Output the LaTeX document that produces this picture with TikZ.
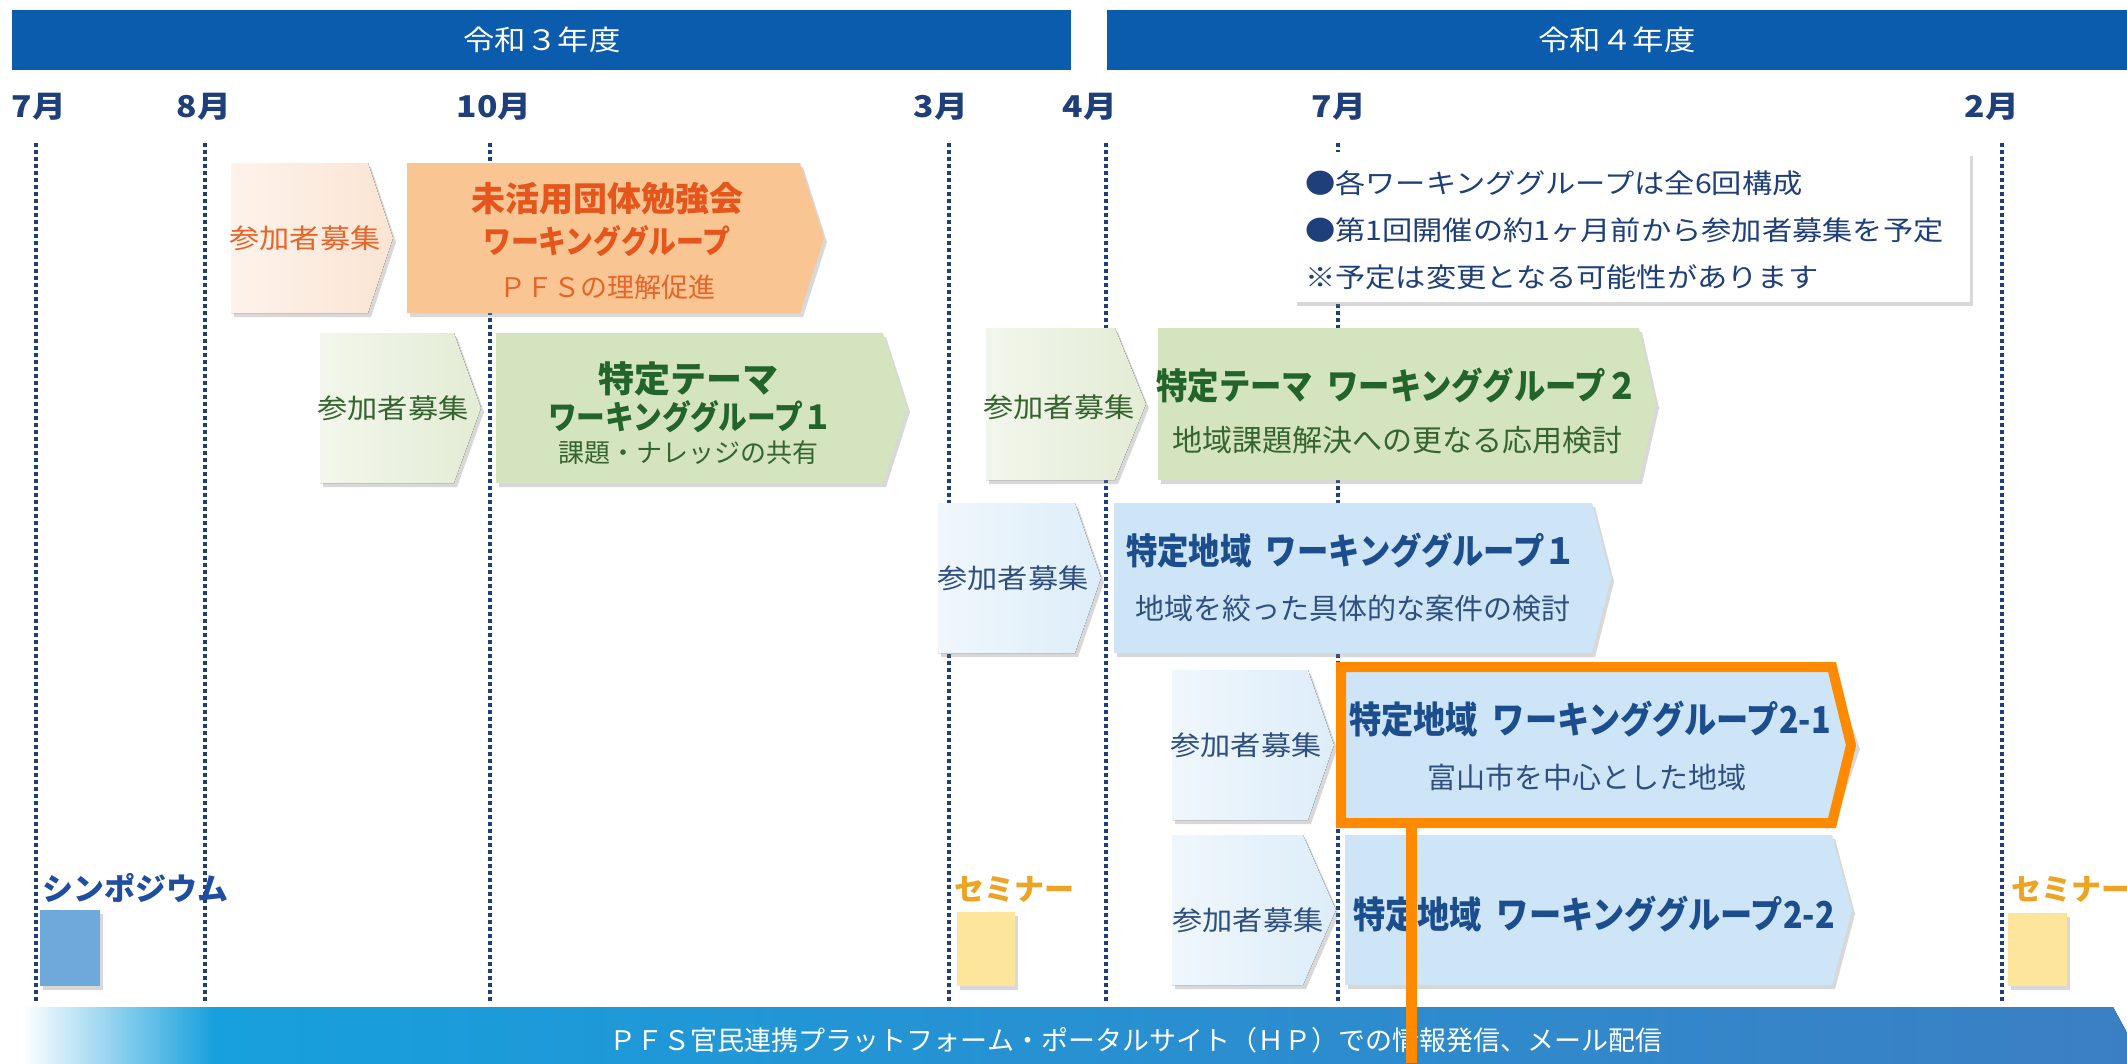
\documentclass[tikz,border=0pt]{standalone}
\usepackage{fontspec}
\newfontfamily\jp{Noto Sans CJK JP}
\newfontfamily\jpw[FakeStretch=1.12]{Noto Sans CJK JP}
\newfontfamily\jpc[FakeStretch=0.87]{Noto Sans CJK JP}
\usetikzlibrary{shadows}
\definecolor{hdr}{HTML}{0B5CAD}
\definecolor{navy}{HTML}{1F3F7A}
\definecolor{bluetx}{HTML}{1C4E8E}
\definecolor{bluesub}{HTML}{2F4F7F}
\definecolor{orgtx}{HTML}{E5561D}
\definecolor{orgsub}{HTML}{E8652A}
\definecolor{orgrec}{HTML}{FBE4D3}
\definecolor{orgmain}{HTML}{F9C693}
\definecolor{grnrec}{HTML}{E3ECD5}
\definecolor{grnmain}{HTML}{D4E4BE}
\definecolor{grntx}{HTML}{22642A}
\definecolor{grnsub}{HTML}{35642F}
\definecolor{blurec}{HTML}{DDEDF9}
\definecolor{blumain}{HTML}{CDE5F7}
\definecolor{hlframe}{HTML}{FF8A00}
\definecolor{sympo}{HTML}{6FA9DC}
\definecolor{sympotx}{HTML}{1F4EA0}
\definecolor{semi}{HTML}{FDE69C}
\definecolor{semitx}{HTML}{EDA422}
\definecolor{bannerA}{HTML}{17A0DD}
\definecolor{bannerB}{HTML}{3C7EC3}

\newcommand\mychev[6]{\fill[#6] (#1,#4) -- (#2,#4) -- (#3,{(#4+#5)/2}) -- (#2,#5) -- (#1,#5) -- cycle;}

\tikzset{
  shd/.style={drop shadow={shadow xshift=3pt,shadow yshift=-4pt,opacity=0.3}},
  recfill/.style={left color=white!55!#1, right color=#1},
  hdrtx/.style={inner sep=0, text=white, font=\jpw\fontsize{28}{32}\selectfont},
  tmonth/.style={inner sep=0, text=navy, font=\jpw\bfseries\fontsize{30}{34}\selectfont},
  vline/.style={navy, line width=4pt, dash pattern=on 4pt off 3pt},
  trec/.style={inner sep=0, font=\jpw\fontsize{27}{30}\selectfont},
  tttl/.style={inner sep=0, font=\jpc\bfseries\fontsize{36}{40}\selectfont},
  tsub/.style={inner sep=0, font=\jp\fontsize{29}{34}\selectfont},
  tnote/.style={inner sep=0, anchor=west, text=navy, font=\jpw\fontsize{27}{30}\selectfont},
}

\begin{document}
\begin{tikzpicture}[x=1pt,y=-1pt]
\useasboundingbox (0,0) rectangle (2127,1063);
\clip (0,0) rectangle (2127,1063);
\fill[white] (0,0) rectangle (2127,1063);

% headers
\fill[hdr] (12,10) rectangle (1071,70);
\fill[hdr] (1107,10) rectangle (2127,70);
\node[hdrtx] (h1) at (542,40) {令和３年度};
\node[hdrtx] (h2) at (1617,40) {令和４年度};

% month labels
\node[tmonth] (m1) at (39,107) {7月};
\node[tmonth] (m2) at (204,107) {8月};
\node[tmonth] (m3) at (494,107) {10月};
\node[tmonth] (m4) at (941,107) {3月};
\node[tmonth] (m5) at (1090,107) {4月};
\node[tmonth] (m6) at (1339,107) {7月};
\node[tmonth] (m7) at (1992,107) {2月};

% dotted lines
\foreach \x in {36,205,490,949,1106,1338,2002}
  \draw[vline] (\x,143) -- (\x,1002);

% note box
\fill[white, shd] (1294,152) rectangle (1970,302);
\node[tnote] (n1) at (1305,183) {●各ワーキンググループは全6回構成};
\node[tnote] (n2) at (1305,230) {●第1回開催の約1ヶ月前から参加者募集を予定};
\node[tnote] (n3) at (1305,277) {※予定は変更となる可能性があります};

% orange row
\mychev{231}{368}{393}{163}{313}{recfill=orgrec, shd}
\mychev{407}{800}{824}{163}{313}{orgmain, shd}
\node[trec, text=orgsub] (r1) at (305,238) {参加者募集};
\node[inner sep=0, text=orgtx, font=\jp\bfseries\fontsize{34}{38}\selectfont] (o1) at (607,199) {未活用団体勉強会};
\node[inner sep=0, text=orgtx, font=\jpc\bfseries\fontsize{32}{36}\selectfont] (o2) at (607,241) {ワーキンググループ};
\node[inner sep=0, text=orgsub, font=\jp\fontsize{27}{30}\selectfont] (o3) at (607,287) {ＰＦＳの理解促進};

% green row 1
\mychev{320}{454}{481}{333}{483}{recfill=grnrec, shd}
\mychev{496}{883}{907}{333}{483}{grnmain, shd}
\node[trec, text=grnsub] (r2) at (393,408) {参加者募集};
\node[inner sep=0, text=grntx, font=\jp\bfseries\fontsize{36}{40}\selectfont] (g1) at (688,379) {特定テーマ};
\node[inner sep=0, text=grntx, font=\jpc\bfseries\fontsize{33}{36}\selectfont] (g2) at (690,417) {ワーキンググループ１};
\node[inner sep=0, text=grnsub, font=\jp\fontsize{26}{30}\selectfont] (g3) at (688,453) {課題・ナレッジの共有};

% green row 2
\mychev{986}{1115}{1146}{328}{480}{recfill=grnrec, shd}
\mychev{1158}{1639}{1656}{328}{480}{grnmain, shd}
\node[trec, text=grnsub] (r3) at (1059,407) {参加者募集};
\node[tttl, text=grntx] (g4) at (1397,386) {特定テーマ\hspace{0.4em}ワーキンググループ２};
\node[tsub, text=grnsub, font=\jp\fontsize{30}{34}\selectfont] (g5) at (1397,440) {地域課題解決への更なる応用検討};

% blue row 1
\mychev{938}{1075}{1101}{503}{653}{recfill=blurec, shd}
\mychev{1114}{1592}{1611}{503}{653}{blumain, shd}
\node[trec, text=bluesub] (r4) at (1013,578) {参加者募集};
\node[tttl, text=bluetx] (b1) at (1351,551) {特定地域\hspace{0.4em}ワーキンググループ１};
\node[tsub, text=bluesub] (b2) at (1353,608) {地域を絞った具体的な案件の検討};

% blue row 2-1
\mychev{1172}{1308}{1334}{670}{820}{recfill=blurec, shd}
\mychev{1345}{1831}{1857}{670}{820}{blumain, shd}
\node[trec, text=bluesub] (r5) at (1246,745) {参加者募集};
\node[tttl, text=bluetx, font=\jpc\bfseries\fontsize{37}{40}\selectfont] (b3) at (1590,719) {特定地域\hspace{0.4em}ワーキンググループ2-1};
\node[tsub, text=bluesub] (b4) at (1587,777) {富山市を中心とした地域};

% blue row 2-2
\mychev{1172}{1303}{1336}{835}{985}{recfill=blurec, shd}
\mychev{1345}{1832}{1852}{835}{985}{blumain, shd}
\node[trec, text=bluesub] (r6) at (1248,920) {参加者募集};
\node[tttl, text=bluetx, font=\jpc\bfseries\fontsize{37}{40}\selectfont] (b5) at (1594,914) {特定地域\hspace{0.4em}ワーキンググループ2-2};

% symposium and seminars
\node[inner sep=0, text=sympotx, font=\jp\bfseries\fontsize{31}{34}\selectfont] (sy) at (135,888) {シンポジウム};
\fill[sympo, shd] (40,910) rectangle (100,986);
\node[inner sep=0, text=semitx, font=\jp\bfseries\fontsize{30}{34}\selectfont] (s1) at (1014,889) {セミナー};
\fill[semi, shd] (957,912) rectangle (1015,986);
\node[inner sep=0, anchor=west, text=semitx, font=\jp\bfseries\fontsize{30}{34}\selectfont] (s2) at (2011,889) {セミナー};
\fill[semi, shd] (2008,913) rectangle (2067,986);

% banner
\fill[left color=white, right color=bannerA] (22,1007) rectangle (214,1080);
\fill[left color=bannerA, right color=bannerB] (213,1007) -- (2113,1007) -- (2150,1075) -- (2113,1140) -- (213,1140) -- cycle;
\node[inner sep=0, text=white, font=\jp\fontsize{27}{30}\selectfont] (bn) at (1136,1040) {ＰＦＳ官民連携プラットフォーム・ポータルサイト（ＨＰ）での情報発信、メール配信};

% highlight frame
\draw[hlframe, line width=10pt, line join=miter] (1341,667) -- (1832,667) -- (1851,745) -- (1832,823) -- (1341,823) -- cycle;
\coordinate (fb) at (1411,828);
\coordinate (fe) at (1411,1063);
\draw[hlframe, line width=11pt] (fb) -- (fe);
\end{tikzpicture}
\end{document}
